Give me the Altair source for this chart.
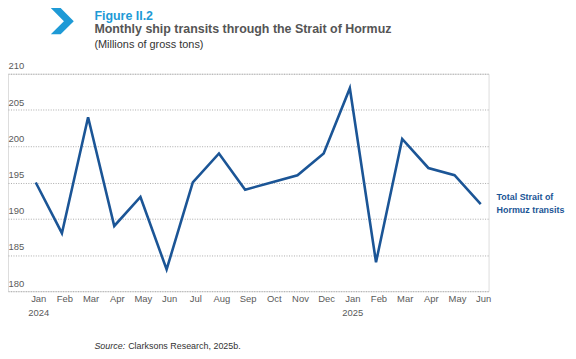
import altair as alt
import pandas as pd

months = ["Jan", "Feb", "Mar", "Apr", "May", "Jun", "Jul", "Aug", "Sep", "Oct", "Nov", "Dec",
          "Jan", "Feb", "Mar", "Apr", "May", "Jun"]
years = ["2024", "2025"]
year_idx = [0, 12]
transits = [195, 188, 204, 189, 193, 183, 195, 199, 194, 195, 196, 199,
            208, 184, 201, 197, 196, 192]
y_ticks = [180, 185, 190, 195, 200, 205, 210]

df = pd.DataFrame({"i": list(range(len(months))), "month": months, "v": transits})
ydf = pd.DataFrame({"i": year_idx, "year": years})

FONT = "Liberation Sans, Arial, sans-serif"
SANS = "Liberation Sans, Arial, sans-serif"
BLUE = "#1b5596"
GREY = "#5a5a5a"

xscale = alt.Scale(domain=[-1.06, 17.3], nice=False, zero=False)
yscale = alt.Scale(domain=[180, 210], nice=False, zero=False)

line = alt.Chart(df).mark_line(color=BLUE, strokeWidth=2.6, strokeJoin="miter").encode(
    x=alt.X("i:Q", scale=xscale, title=None, axis=None),
    y=alt.Y("v:Q", scale=yscale, title=None,
            axis=alt.Axis(values=y_ticks, grid=True, gridDash=[1, 1.5], gridColor="#aaaaaa",
                          gridWidth=1, ticks=False, tickSize=0, domain=False,
                          labelAlign="left", labelBaseline="bottom", labelPadding=0,
                          labelOffset=-3, labelFontSize=9.5, labelColor=GREY,
                          labelFont=FONT)),
)

mlab = alt.Chart(df).mark_text(font=FONT, fontSize=9.5, color=GREY, baseline="middle", dx=3).encode(
    x=alt.X("i:Q", scale=xscale),
    y=alt.value(227),
    text="month:N",
)

yrs = alt.Chart(ydf).mark_text(font=FONT, fontSize=9.5, color=GREY, baseline="middle", dx=3).encode(
    x=alt.X("i:Q", scale=xscale),
    y=alt.value(241),
    text="year:N",
)

def txt(s, x, y, **kw):
    return alt.Chart(pd.DataFrame({"t": [s]})).mark_text(align="left", baseline="middle", **kw).encode(
        x=alt.value(x), y=alt.value(y), text="t:N")

chev = alt.Chart(pd.DataFrame({"a": [0]})).mark_point(
    shape="M -0.9 -1 L -0.15 -1 L 0.85 0 L -0.15 1 L -0.9 1 L 0.1 0 Z",
    filled=True, color="#1e9ad6", opacity=1, size=700, strokeWidth=0,
).encode(x=alt.value(55), y=alt.value(-53))

t1 = txt("Figure II.2", 87, -58.5, font=SANS, fontSize=12.5, fontWeight="bold", color="#1e9ad6")
t2 = txt("Monthly ship transits through the Strait of Hormuz", 87, -45,
         font=SANS, fontSize=12.5, fontWeight="bold", color="#555555")
t3 = txt("(Millions of gross tons)", 87, -29, font=SANS, fontSize=11, color="#333333")
s1 = txt("Source:", 87, 274, font=SANS, fontSize=9, fontStyle="italic", color="#333333")
s2 = txt("Clarksons Research, 2025b.", 121, 274, font=SANS, fontSize=9, color="#333333")
l1 = txt("Total Strait of", 492, 124, font=FONT, fontSize=9, fontWeight="bold", color=BLUE)
l2 = txt("Hormuz transits", 492, 137, font=FONT, fontSize=9, fontWeight="bold", color=BLUE)

chart = alt.layer(line, mlab, yrs, chev, t1, t2, t3, s1, s2, l1, l2).properties(
    width=484, height=219,
    autosize=alt.AutoSizeParams(type="none"),
    padding={"left": 0, "top": 65, "right": 80, "bottom": 59},
).configure_view(stroke=None).configure(background="white")

chart.save("out.html", embed_options={"renderer": "svg", "actions": False})
